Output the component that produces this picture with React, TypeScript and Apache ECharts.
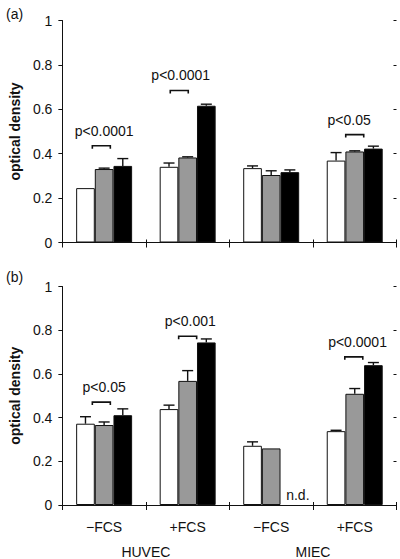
import React, { useEffect, useRef } from "react";
import * as echarts from "echarts";

const categories = ["\u2212FCS", "+FCS", "\u2212FCS", "+FCS"];
const cellGroups = ["HUVEC", "MIEC"];
const yTicks = [0, 0.2, 0.4, 0.6, 0.8, 1];

// Panel (a)
const aWhite = [0.245, 0.341, 0.335, 0.369];
const aWhiteErr = [0, 0.017, 0.01, 0.036];
const aGray = [0.331, 0.383, 0.304, 0.41];
const aGrayErr = [0.004, 0.003, 0.019, 0.003];
const aBlack = [0.345, 0.616, 0.317, 0.423];
const aBlackErr = [0.033, 0.007, 0.01, 0.011];
const aSigGroups = [0, 1, 3];
const aSigLabels = ["p<0.0001", "p<0.0001", "p<0.05"];
const aSigY = [0.436, 0.685, 0.486];

// Panel (b)
const bWhite = [0.372, 0.439, 0.271, 0.338];
const bWhiteErr = [0.032, 0.018, 0.018, 0.004];
const bGray = [0.366, 0.568, 0.259, 0.509];
const bGrayErr = [0.014, 0.047, 0, 0.024];
const bBlack: (number | null)[] = [0.411, 0.744, null, 0.64];
const bBlackErr: (number | null)[] = [0.029, 0.016, null, 0.012];
const bSigGroups = [0, 1, 3];
const bSigLabels = ["p<0.05", "p<0.001", "p<0.0001"];
const bSigY = [0.471, 0.772, 0.678];

// annotation horizontal shifts (in bar widths), layout only
const aBracketShift = [-0.15, -0.45, 0];
const aTextShift = [0, -0.37, -0.3];
const bBracketShift = [-0.15, 0, -0.05];
const bTextShift = [0, 0.14, 0.15];

const FONT = "'Liberation Sans', Arial, Helvetica, sans-serif";
const CAT_GAP = 0.33;

function barWidth(api: any) {
  const band = api.size([1, 0])[0];
  return (band * (1 - CAT_GAP)) / 3;
}

function errorSeries(xi: number, yi: number, vals: (number | null)[][], errs: (number | null)[][]) {
  const data: number[][] = [];
  vals.forEach((arr, s) => {
    arr.forEach((v, c) => {
      const e = errs[s][c];
      if (v != null && e != null && e > 0) data.push([c, v, e, s]);
    });
  });
  return {
    type: "custom",
    xAxisIndex: xi,
    yAxisIndex: yi,
    z: 5,
    silent: true,
    data,
    renderItem: (params: any, api: any) => {
      const c = api.value(0);
      const v = api.value(1);
      const e = api.value(2);
      const s = api.value(3);
      const bw = barWidth(api);
      const p0 = api.coord([c, v]);
      const p1 = api.coord([c, v + e]);
      const x = p0[0] + (s - 1) * bw;
      const style = { stroke: "#111", lineWidth: 1.4 };
      return {
        type: "group",
        children: [
          { type: "line", shape: { x1: x, y1: p0[1], x2: x, y2: p1[1] }, style },
          { type: "line", shape: { x1: x - 5.5, y1: p1[1], x2: x + 5.5, y2: p1[1] }, style },
        ],
      };
    },
  };
}

function sigSeries(
  xi: number,
  yi: number,
  groups: number[],
  labels: string[],
  ys: number[],
  bShift: number[],
  tShift: number[]
) {
  return {
    type: "custom",
    xAxisIndex: xi,
    yAxisIndex: yi,
    z: 6,
    silent: true,
    clip: false,
    data: groups.map((g, i) => [g, ys[i], i]),
    renderItem: (params: any, api: any) => {
      const c = api.value(0);
      const y = api.value(1);
      const i = api.value(2);
      const bw = barWidth(api);
      const p = api.coord([c, y]);
      const bx = p[0] + bShift[i] * bw;
      const tx = p[0] + tShift[i] * bw;
      const half = 9;
      return {
        type: "group",
        children: [
          {
            type: "polyline",
            shape: {
              points: [
                [bx - half, p[1] + 3],
                [bx - half, p[1]],
                [bx + half, p[1]],
                [bx + half, p[1] + 3],
              ],
            },
            style: { stroke: "#111", lineWidth: 1.6, fill: "none" },
          },
          {
            type: "text",
            x: tx,
            y: p[1] - 15,
            style: {
              text: labels[i],
              fill: "#111",
              font: `14px ${FONT}`,
              align: "center",
              verticalAlign: "middle",
            },
          },
        ],
      };
    },
  };
}

function ndSeries(xi: number, yi: number, black: (number | null)[]) {
  const data: number[][] = [];
  black.forEach((v, c) => {
    if (v == null) data.push([c, 0]);
  });
  return {
    type: "custom",
    xAxisIndex: xi,
    yAxisIndex: yi,
    z: 6,
    silent: true,
    clip: false,
    data,
    renderItem: (params: any, api: any) => {
      const c = api.value(0);
      const bw = barWidth(api);
      const p = api.coord([c, 0]);
      return {
        type: "text",
        x: p[0] + bw + 8,
        y: p[1] - 10,
        style: {
          text: "n.d.",
          fill: "#111",
          font: `14px ${FONT}`,
          align: "center",
          verticalAlign: "middle",
        },
      };
    },
  };
}

function barSeries(xi: number, yi: number, data: (number | null)[], color: string) {
  return {
    type: "bar",
    xAxisIndex: xi,
    yAxisIndex: yi,
    data,
    barGap: "0%",
    barCategoryGap: `${CAT_GAP * 100}%`,
    itemStyle: { color, borderColor: "#111", borderWidth: 1 },
    silent: true,
  };
}

const axisLineStyle = { color: "#111", width: 1 };

function mainX(gridIndex: number, showLabels: boolean) {
  return {
    type: "category",
    gridIndex,
    data: categories,
    position: "bottom",
    axisLine: { show: true, lineStyle: axisLineStyle },
    axisTick: { show: true, length: 5, lineStyle: axisLineStyle },
    axisLabel: {
      show: showLabels,
      margin: 15,
      color: "#111",
      fontSize: 14,
      fontFamily: FONT,
    },
    splitLine: { show: false },
  };
}

function innerX(gridIndex: number) {
  return {
    type: "category",
    gridIndex,
    data: categories,
    position: "bottom",
    axisLine: { show: false },
    axisTick: { show: true, inside: true, length: 3, lineStyle: axisLineStyle },
    axisLabel: { show: false },
    splitLine: { show: false },
  };
}

function mainY(gridIndex: number) {
  return {
    type: "value",
    gridIndex,
    min: yTicks[0],
    max: yTicks[yTicks.length - 1],
    interval: yTicks[1] - yTicks[0],
    name: "optical density",
    nameLocation: "middle",
    nameGap: 40,
    nameTextStyle: { fontSize: 14, fontWeight: "bold", color: "#111", fontFamily: FONT },
    axisLine: { show: true, lineStyle: axisLineStyle },
    axisTick: { show: true, length: 4, lineStyle: axisLineStyle },
    axisLabel: {
      margin: 10,
      color: "#111",
      fontSize: 14,
      fontFamily: FONT,
      formatter: (v: number) => String(Math.round(v * 10) / 10),
    },
    splitLine: { show: false },
  };
}

function innerY(gridIndex: number) {
  return {
    type: "value",
    gridIndex,
    min: yTicks[0],
    max: yTicks[yTicks.length - 1],
    interval: yTicks[1] - yTicks[0],
    axisLine: { show: false },
    axisTick: { show: true, inside: true, length: 3, lineStyle: axisLineStyle },
    axisLabel: { show: false },
    splitLine: { show: false },
  };
}

export default function App() {
  const ref = useRef<HTMLDivElement>(null);
  useEffect(() => {
    if (!ref.current) return;
    const chart = echarts.init(ref.current, null, { renderer: "svg" });
    chart.setOption({
      animation: false,
      backgroundColor: "#fff",
      title: [
        { text: "(a)", left: 1, top: 2, textStyle: { fontSize: 14, fontWeight: "normal", color: "#111", fontFamily: FONT } },
        { text: "(b)", left: 1, top: 265, textStyle: { fontSize: 14, fontWeight: "normal", color: "#111", fontFamily: FONT } },
      ],
      grid: [
        { left: 55.5, top: 20.5, width: 341, height: 222, containLabel: false },
        { left: 55.5, top: 286.5, width: 341, height: 223, containLabel: false },
      ],
      xAxis: [
        mainX(0, false),
        innerX(0),
        mainX(1, true),
        innerX(1),
        {
          type: "category",
          gridIndex: 1,
          data: cellGroups,
          position: "bottom",
          offset: 25,
          axisLine: { show: false },
          axisTick: { show: false },
          axisLabel: { margin: 15, color: "#111", fontSize: 14, fontFamily: FONT },
          splitLine: { show: false },
        },
      ],
      yAxis: [mainY(0), innerY(0), mainY(1), innerY(1)],
      series: [
        barSeries(0, 0, aWhite, "#ffffff"),
        barSeries(0, 0, aGray, "#999999"),
        barSeries(0, 0, aBlack, "#000000"),
        errorSeries(0, 0, [aWhite, aGray, aBlack], [aWhiteErr, aGrayErr, aBlackErr]),
        sigSeries(0, 0, aSigGroups, aSigLabels, aSigY, aBracketShift, aTextShift),
        barSeries(2, 2, bWhite, "#ffffff"),
        barSeries(2, 2, bGray, "#999999"),
        barSeries(2, 2, bBlack, "#000000"),
        errorSeries(2, 2, [bWhite, bGray, bBlack], [bWhiteErr, bGrayErr, bBlackErr]),
        sigSeries(2, 2, bSigGroups, bSigLabels, bSigY, bBracketShift, bTextShift),
        ndSeries(2, 2, bBlack),
      ],
    });
    return () => chart.dispose();
  }, []);
  return (
    <div
      ref={ref}
      style={{ position: "absolute", left: 0, top: 0, width: 400, height: 559, background: "#fff" }}
    />
  );
}
